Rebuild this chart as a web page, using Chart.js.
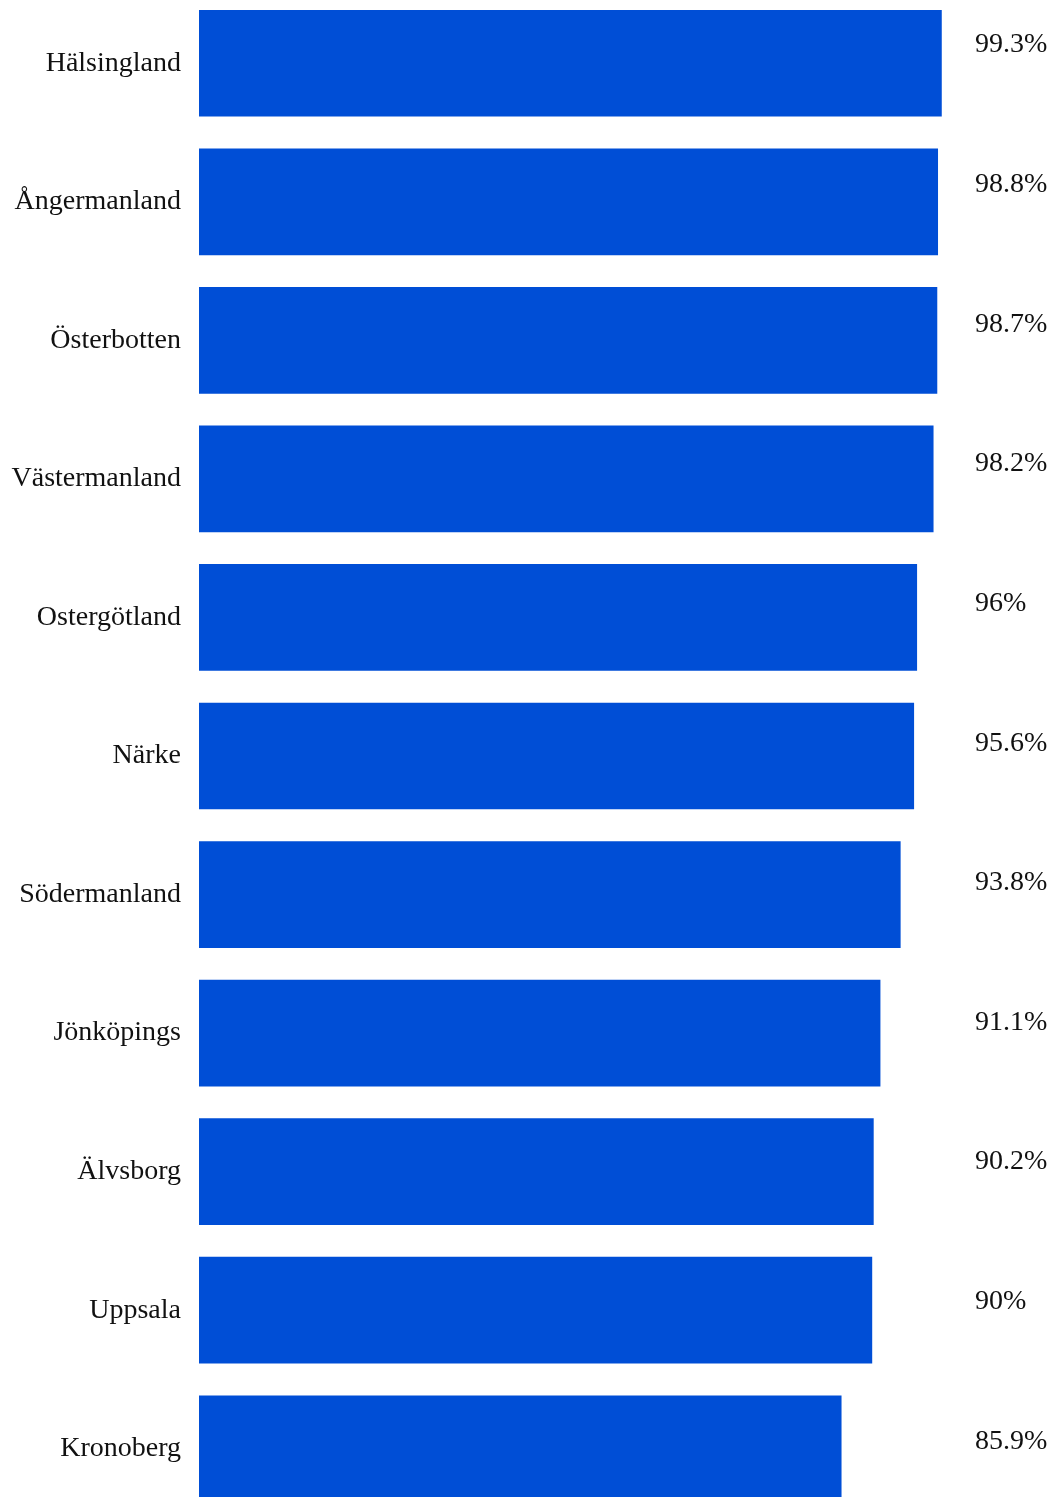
<!DOCTYPE html>
<html>
<head>
<meta charset="utf-8">
<script src="https://cdn.jsdelivr.net/npm/chart.js@4"></script>
<style>
  html, body { margin: 0; padding: 0; background: #fff; overflow: hidden; }
  #wrap { position: absolute; left: 0; top: -6px; width: 1058px; height: 1524px; }
</style>
</head>
<body>
<div id="wrap"><canvas id="myChart"></canvas></div>
<script>
const regions = ['Hälsingland', 'Ångermanland', 'Österbotten', 'Västermanland', 'Ostergötland',
  'Närke', 'Södermanland', 'Jönköpings', 'Älvsborg', 'Uppsala', 'Kronoberg'];
const shares = [99.3, 98.8, 98.7, 98.2, 96, 95.6, 93.8, 91.1, 90.2, 90, 85.9];
const shareLabels = ['99.3%', '98.8%', '98.7%', '98.2%', '96%', '95.6%', '93.8%', '91.1%', '90.2%', '90%', '85.9%'];

const serif = "'Liberation Serif', 'DejaVu Serif', serif";

// value text to the right of the plot area
const valueLabels = {
  id: 'valueLabels',
  afterDatasetsDraw(chart) {
    const ctx = chart.ctx;
    const meta = chart.getDatasetMeta(0);
    ctx.save();
    ctx.font = '28px ' + serif;
    ctx.fillStyle = '#111';
    ctx.textAlign = 'left';
    ctx.textBaseline = 'alphabetic';
    meta.data.forEach((bar, i) => {
      ctx.fillText(shareLabels[i], chart.chartArea.right + 28, bar.y - 11 + i * 1.1);
    });
    ctx.restore();
  }
};

document.addEventListener('DOMContentLoaded', () => {
  const ctx = document.getElementById('myChart');
  new Chart(ctx, {
    type: 'bar',
    data: {
      labels: regions,
      datasets: [{
        data: shares,
        backgroundColor: '#004ED6',
        borderWidth: 0,
        categoryPercentage: 1,
        barPercentage: 0.77
      }]
    },
    options: {
      indexAxis: 'y',
      responsive: true,
      maintainAspectRatio: false,
      animation: false,
      layout: { padding: { left: 0, right: 111, top: 0, bottom: 0 } },
      plugins: {
        legend: { display: false },
        tooltip: { enabled: false }
      },
      scales: {
        x: {
          display: false,
          min: 0,
          max: 100
        },
        y: {
          grid: { display: false, drawTicks: false },
          border: { display: false },
          ticks: {
            color: '#111',
            padding: 18,
            font: { family: serif, size: 28 }
          },
          afterFit(scale) {
            scale.width = 199;
            // keep the label padding from shrinking the plot vertically
            scale.paddingTop = 0;
            scale.paddingBottom = 0;
          }
        }
      }
    },
    plugins: [valueLabels]
  });
});
</script>
</body>
</html>
